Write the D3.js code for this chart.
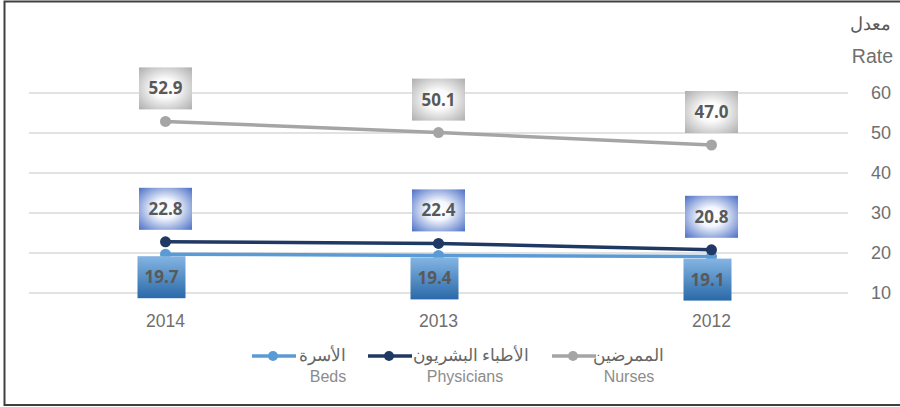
<!DOCTYPE html>
<html><head><meta charset="utf-8">
<script src="https://cdn.jsdelivr.net/npm/d3@7"></script>
<style>body{margin:0;background:#fff}svg{display:block;font-family:"Open Sans",Calibri,"Liberation Sans",sans-serif}</style>
</head><body><svg id="c" width="900" height="407"></svg>
<script>
const years = ["2014","2013","2012"];
const beds = [19.7, 19.4, 19.1];
const physicians = [22.8, 22.4, 20.8];
const nurses = [52.9, 50.1, 47.0];
const yTicks = [10,20,30,40,50,60];
const seriesNamesAr = ["الأسرة","الأطباء البشريون","الممرضين"];
const seriesNamesEn = ["Beds","Physicians","Nurses"];

const svg = d3.select("#c");
const defs = svg.append("defs");
const gGray = defs.append("radialGradient").attr("id","gGray").attr("cx","50%").attr("cy","50%").attr("r","75%");
gGray.append("stop").attr("offset","0%").attr("stop-color","#ffffff");
gGray.append("stop").attr("offset","30%").attr("stop-color","#fbfbfb");
gGray.append("stop").attr("offset","100%").attr("stop-color","#a6a6a6");
const gBlue = defs.append("radialGradient").attr("id","gBlue").attr("cx","50%").attr("cy","50%").attr("r","75%");
gBlue.append("stop").attr("offset","0%").attr("stop-color","#ffffff");
gBlue.append("stop").attr("offset","30%").attr("stop-color","#f4f7fd");
gBlue.append("stop").attr("offset","100%").attr("stop-color","#3a62c0");
const gBeds = defs.append("linearGradient").attr("id","gBeds").attr("x1","0").attr("y1","0").attr("x2","0").attr("y2","1");
gBeds.append("stop").attr("offset","0%").attr("stop-color","#84b5e3");
gBeds.append("stop").attr("offset","100%").attr("stop-color","#2a69a8");

// frame
svg.append("rect").attr("x",4.5).attr("y",1.5).attr("width",905).attr("height",403.5)
  .attr("fill","none").attr("stroke","#404040").attr("stroke-width",2);

const x = d3.scaleBand().domain(years).range([29,848]);
const y = d3.scaleLinear().domain([10,60]).range([293,93]);

// gridlines
svg.append("g").selectAll("line").data(yTicks).join("line")
  .attr("x1",29).attr("x2",848).attr("y1",d=>y(d)).attr("y2",d=>y(d))
  .attr("stroke","#d9d9d9").attr("stroke-width",1.5);

// right axis
const yAxis = d3.axisRight(y).tickValues(yTicks).tickSize(0).tickPadding(0);
const ga = svg.append("g").attr("transform","translate(881,0)").call(yAxis);
ga.select(".domain").remove();
ga.selectAll("text").attr("font-size",18).attr("fill","#6f6f6f").attr("text-anchor","middle")
  .attr("font-family","'Liberation Sans',Arial,sans-serif");

// x axis
const xAxis = d3.axisBottom(x).tickSize(0).tickPadding(0);
const gx = svg.append("g").attr("transform","translate(0,315)").call(xAxis);
gx.select(".domain").remove();
gx.selectAll("text").attr("font-size",17.5).attr("fill","#6f6f6f").attr("font-family","'Liberation Sans',Arial,sans-serif");

// axis title
svg.append("text").attr("x",891).attr("y",30).attr("text-anchor","end").attr("font-size",18)
  .attr("fill","#595959").attr("font-family","'Noto Sans',sans-serif").text("معدل");
svg.append("text").attr("x",893).attr("y",63).attr("text-anchor","end").attr("font-size",19.5)
  .attr("fill","#6f6f6f").attr("font-family","'Liberation Sans',Arial,sans-serif").text("Rate");

const cx = d => x(d) + x.bandwidth()/2;
const series = [
  {vals: nurses, color:"#a5a5a5", fill:"url(#gGray)", pos:"above"},
  {vals: physicians, color:"#203864", fill:"url(#gBlue)", pos:"above"},
  {vals: beds, color:"#5b9bd5", fill:"url(#gBeds)", pos:"below"}
];
const line = d3.line().x((d,i)=>cx(years[i])).y(d=>y(d));

[series[2], series[1], series[0]].forEach(s=>{
  svg.append("path").attr("d",line(s.vals)).attr("fill","none").attr("stroke",s.color).attr("stroke-width",3.5);
  svg.append("g").selectAll("circle").data(s.vals).join("circle")
    .attr("cx",(d,i)=>cx(years[i])).attr("cy",d=>y(d)).attr("r",5.5).attr("fill",s.color);
});

// labels
series.forEach(s=>{
  const g = svg.append("g");
  s.vals.forEach((v,i)=>{
    const w = s.pos==="below" ? 48 : 53, h = 42;
    const xc = cx(years[i]) + (s.pos==="below" ? -4 : 0);
    const yt = s.pos==="below" ? y(v)+2 : y(v)-12-h;
    g.append("rect").attr("x",xc-w/2).attr("y",yt).attr("width",w).attr("height",h).attr("fill",s.fill);
    g.append("text").attr("x",xc).attr("y",yt+h/2+6).attr("text-anchor","middle")
      .attr("font-size",17).attr("font-weight","bold").attr("fill","#595959")
      .attr("font-family","'Open Sans',sans-serif").text(v.toFixed(1));
  });
});

// legend
const legend = [
  {ar:seriesNamesAr[0], en:seriesNamesEn[0], color:"#5b9bd5", lx:252, ax:346, ex:328},
  {ar:seriesNamesAr[1], en:seriesNamesEn[1], color:"#203864", lx:368, ax:529, ex:465},
  {ar:seriesNamesAr[2], en:seriesNamesEn[2], color:"#a5a5a5", lx:552, ax:664, ex:629}
];
legend.forEach(l=>{
  svg.append("line").attr("x1",l.lx).attr("x2",l.lx+44).attr("y1",356).attr("y2",356)
    .attr("stroke",l.color).attr("stroke-width",3.5);
  svg.append("circle").attr("cx",l.lx+21).attr("cy",356).attr("r",5).attr("fill",l.color);
  svg.append("text").attr("x",l.ax).attr("y",361).attr("text-anchor","end").attr("font-size",16.5)
    .attr("fill","#666666").attr("font-family","'Noto Sans',sans-serif").text(l.ar);
  svg.append("text").attr("x",l.ex).attr("y",382).attr("text-anchor","middle").attr("font-size",16)
    .attr("fill","#8c8c8c").attr("font-family","'Liberation Sans',Arial,sans-serif").text(l.en);
});
</script></body></html>
